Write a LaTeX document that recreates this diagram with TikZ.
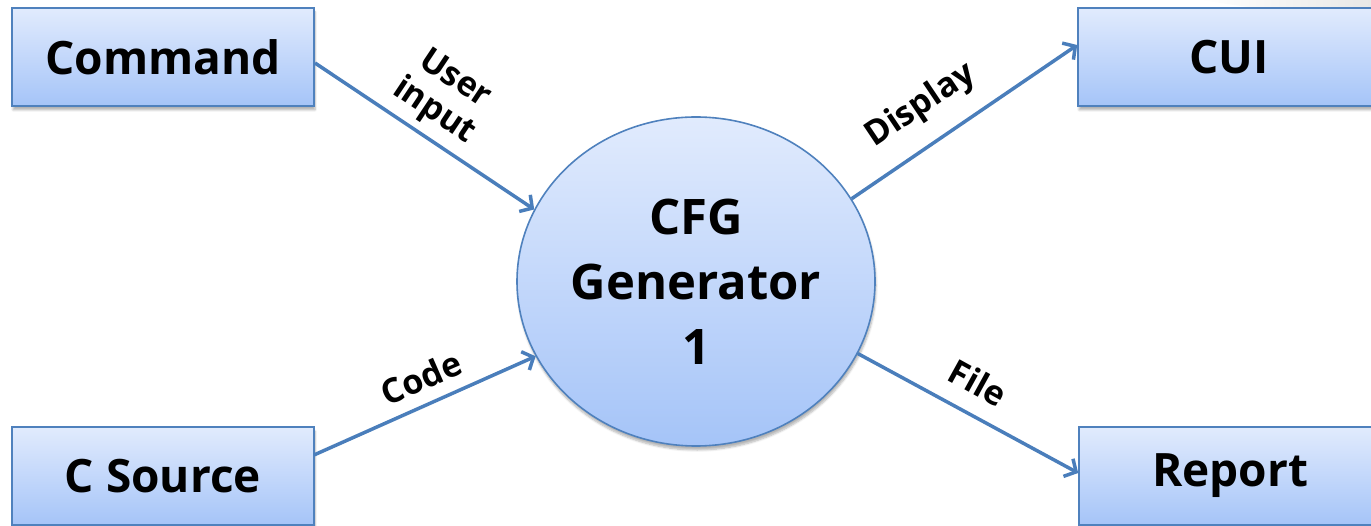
\documentclass[tikz,border=0pt]{standalone}
\usepackage{fontspec}
\setmainfont{Open Sans}
\usetikzlibrary{arrows.meta,shapes.geometric,shadows.blur}
\definecolor{topfill}{RGB}{225,235,253}
\definecolor{botfill}{RGB}{165,196,248}
\definecolor{edge}{RGB}{79,129,189}
\definecolor{arrowc}{RGB}{74,126,187}
\definecolor{bggray}{RGB}{232,232,230}
\tikzset{
  box/.style={draw=edge, line width=1.6pt, top color=topfill, bottom color=botfill,
    minimum width=302pt, minimum height=98pt, inner sep=0pt,
    font=\fontsize{46}{52}\selectfont\bfseries,
    blur shadow={shadow xshift=1pt, shadow yshift=-4pt, shadow blur steps=6, shadow opacity=30}},
  proc/.style={ellipse, draw=edge, line width=1.6pt, top color=topfill, bottom color=botfill,
    minimum width=358pt, minimum height=329pt, inner sep=0pt, align=center,
    font=\fontsize{49}{65}\selectfont\bfseries,
    blur shadow={shadow xshift=1pt, shadow yshift=-4pt, shadow blur steps=6, shadow opacity=30}},
  flow/.style={draw=arrowc, line width=3.5pt, -{Straight Barb[length=9pt,width=20pt,line width=3.5pt]}},
  lbl/.style={font=\fontsize{34}{38}\selectfont\bfseries, inner sep=0pt, align=center},
}
\begin{document}
\begin{tikzpicture}[x=1pt,y=-1pt]
\clip (0,0) rectangle (1371,526);
\shade[left color=white, right color=bggray] (1200,0) .. controls (1260,9) .. (1371,20) -- (1371,0) -- cycle;
\node[box] (cmd) at (163,57) {Command};
\node[box] (src) at (163,476) {C Source};
\node[box] (cui) at (1229,57) {CUI};
\node[box] (rep) at (1230,476) {Report};
\node[proc] (cfg) at (696,281.5) {CFG\\Generator\\1};
\coordinate (cmdout) at (315,63);
\coordinate (srcout) at (314,455);
\coordinate (cuiin) at (cui.west |- 0,45);
\coordinate (repin) at (rep.west |- 0,473);
\draw[flow] (cmdout) -- (cfg.156);
\draw[flow] (srcout) -- (cfg.205.6);
\draw[flow] (cfg.28.4) -- (cuiin);
\draw[flow] (cfg.336.9) -- (repin);
\node[lbl, rotate=-33.7] (ui) at (444,96) {User\\input};
\node[lbl, rotate=23.6] (code) at (421,378) {Code};
\node[lbl, rotate=33.9] (disp) at (921,106) {Display};
\node[lbl, rotate=-28.9] (file) at (978,383) {File};
\end{tikzpicture}
\end{document}
